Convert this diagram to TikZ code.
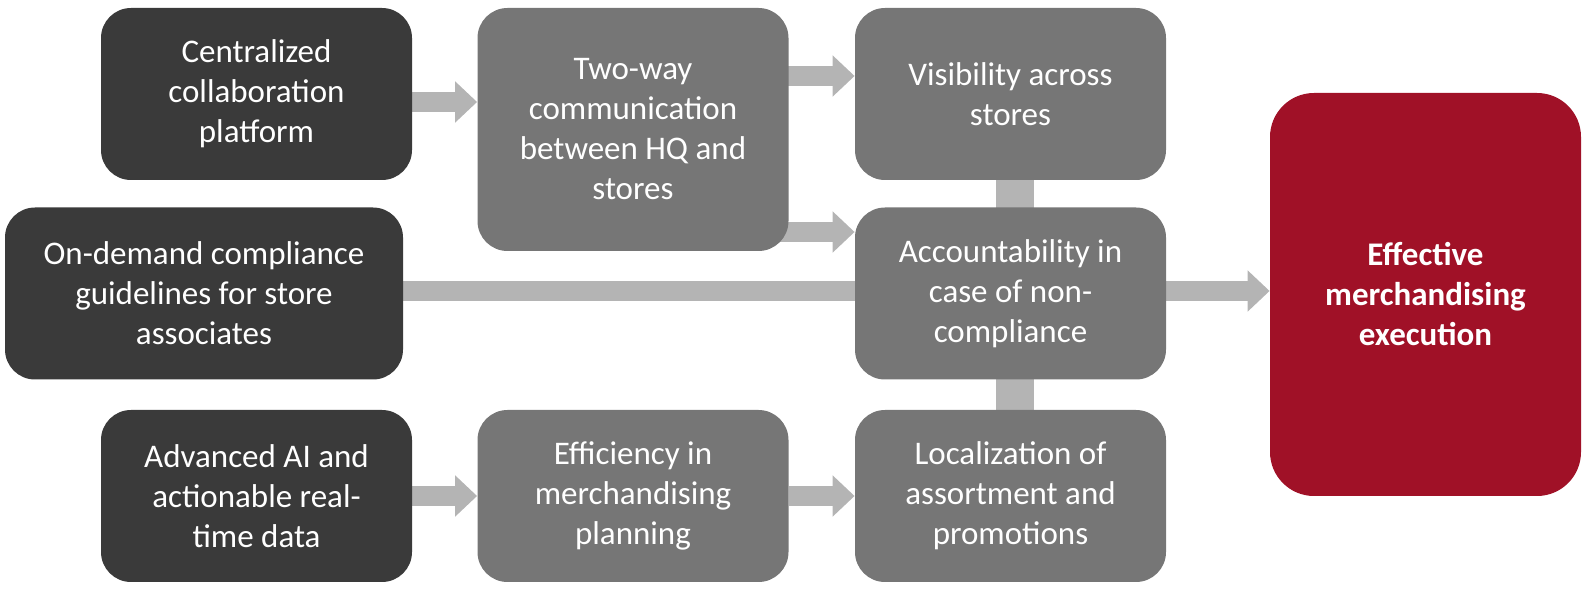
\documentclass[tikz,border=0pt]{standalone}
\usepackage{fontspec}
\setmainfont{Carlito}
\usetikzlibrary{arrows.meta,backgrounds}
\definecolor{boxdark}{HTML}{3A3A3A}
\definecolor{boxgray}{HTML}{767676}
\definecolor{boxred}{HTML}{A01127}
\definecolor{flowgray}{HTML}{B4B4B4}
\begin{document}
\begin{tikzpicture}[x=0.5pt,y=-0.5pt,
    base/.style={rounded corners=15pt,text=white,align=center,inner sep=0pt,
      font=\fontsize{16.5}{20}\selectfont,minimum width=155.5pt,minimum height=86pt},
    darkbox/.style={base,fill=boxdark},
    graybox/.style={base,fill=boxgray},
    redbox/.style={base,fill=boxred,rounded corners=22pt,
      font=\fontsize{16.5}{20}\selectfont\bfseries},
    flow/.style={draw=flowgray,line width=10pt,-{Triangle[length=11pt,width=20pt]}},
    bar/.style={draw=flowgray,line width=19pt}]
  \useasboundingbox (0,0) rectangle (1586,598);
  % left column
  \node[darkbox] (cent) at (256.5,94) {Centralized\\collaboration\\platform};
  \node[darkbox,minimum width=199pt] (ondem) at (204,293.5) {On-demand compliance\\guidelines for store\\associates};
  \node[darkbox] (advai) at (256.5,496) {Advanced AI and\\actionable real-\\time data};
  % middle
  \node[graybox,minimum height=121.5pt] (twoway) at (633,129.5) {Two-way\\communication\\between HQ and\\stores};
  \node[graybox] (effic) at (633,496) {Efficiency in\\merchandising\\planning};
  \node[graybox] (visib) at (1010.5,94) {Visibility across\\stores};
  \node[graybox] (account) at (1010.5,293.5) {Accountability in\\case of non-\\compliance};
  \node[graybox] (local) at (1010.5,496) {Localization of\\assortment and\\promotions};
  % result
  \node[redbox,minimum height=201.5pt] (effect) at (1425.5,294.5) {Effective\\merchandising\\execution};
  \begin{scope}[on background layer]
    \draw[flow] (cent.east |- 0,102) -- (twoway.west |- 0,102);
    \draw[flow] (twoway.center |- 0,76) -- (visib.west |- 0,76);
    \draw[flow] (twoway.center |- 0,232) -- (account.west |- 0,232);
    \draw[flow] (ondem.center |- 0,291) -- (effect.west |- 0,291);
    \draw[flow] (advai.east) -- (effic.west);
    \draw[flow] (effic.east) -- (local.west);
    \draw[bar] (visib.south -| 1015,0) -- (local.north -| 1015,0);
  \end{scope}
\end{tikzpicture}
\end{document}
